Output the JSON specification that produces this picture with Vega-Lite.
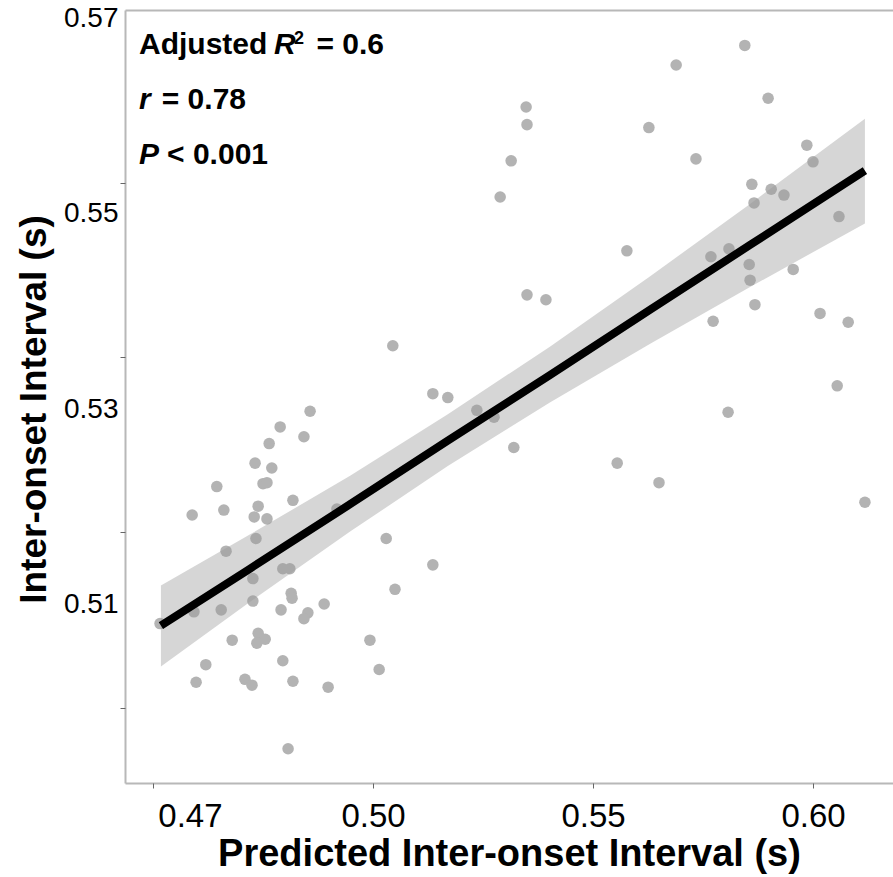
{
  "$schema": "https://vega.github.io/schema/vega-lite/v6.json",
  "width": 768,
  "height": 773,
  "autosize": {"type": "none"},
  "padding": {"left": 125, "top": 10, "right": 0, "bottom": 94},
  "background": "white",
  "config": {"view": {"stroke": null}, "axis": {"grid": false}},
  "datasets": {
    "obs": [
      {"predicted": 0.4857, "observed": 0.5298}, {"predicted": 0.4789, "observed": 0.5282},
      {"predicted": 0.4843, "observed": 0.5272}, {"predicted": 0.4764, "observed": 0.5265},
      {"predicted": 0.4732, "observed": 0.5245}, {"predicted": 0.4770, "observed": 0.5240},
      {"predicted": 0.4645, "observed": 0.5221}, {"predicted": 0.4750, "observed": 0.5224},
      {"predicted": 0.4759, "observed": 0.5225}, {"predicted": 0.4818, "observed": 0.5207},
      {"predicted": 0.4589, "observed": 0.5192}, {"predicted": 0.4661, "observed": 0.5197},
      {"predicted": 0.4739, "observed": 0.5201}, {"predicted": 0.4730, "observed": 0.5190},
      {"predicted": 0.4759, "observed": 0.5188}, {"predicted": 0.4918, "observed": 0.5198},
      {"predicted": 0.4734, "observed": 0.5168}, {"predicted": 0.4666, "observed": 0.5155},
      {"predicted": 0.4795, "observed": 0.5137}, {"predicted": 0.4811, "observed": 0.5137},
      {"predicted": 0.4727, "observed": 0.5127}, {"predicted": 0.4814, "observed": 0.5112},
      {"predicted": 0.4816, "observed": 0.5107}, {"predicted": 0.4727, "observed": 0.5104},
      {"predicted": 0.4593, "observed": 0.5093}, {"predicted": 0.4655, "observed": 0.5095},
      {"predicted": 0.4791, "observed": 0.5095}, {"predicted": 0.4889, "observed": 0.5101},
      {"predicted": 0.4852, "observed": 0.5092}, {"predicted": 0.4843, "observed": 0.5086},
      {"predicted": 0.4516, "observed": 0.5081}, {"predicted": 0.4680, "observed": 0.5064},
      {"predicted": 0.4739, "observed": 0.5071}, {"predicted": 0.4755, "observed": 0.5065},
      {"predicted": 0.4736, "observed": 0.5061}, {"predicted": 0.4620, "observed": 0.5039},
      {"predicted": 0.4795, "observed": 0.5043}, {"predicted": 0.4598, "observed": 0.5021},
      {"predicted": 0.4709, "observed": 0.5024}, {"predicted": 0.4725, "observed": 0.5018},
      {"predicted": 0.4818, "observed": 0.5022}, {"predicted": 0.4898, "observed": 0.5016},
      {"predicted": 0.4807, "observed": 0.4953},
      {"predicted": 0.5348, "observed": 0.5609}, {"predicted": 0.5350, "observed": 0.5591},
      {"predicted": 0.5314, "observed": 0.5554}, {"predicted": 0.5289, "observed": 0.5517},
      {"predicted": 0.5350, "observed": 0.5417}, {"predicted": 0.5393, "observed": 0.5412},
      {"predicted": 0.5045, "observed": 0.5365}, {"predicted": 0.5136, "observed": 0.5316},
      {"predicted": 0.5170, "observed": 0.5312}, {"predicted": 0.5236, "observed": 0.5299},
      {"predicted": 0.5275, "observed": 0.5292}, {"predicted": 0.5320, "observed": 0.5261},
      {"predicted": 0.5030, "observed": 0.5168}, {"predicted": 0.5136, "observed": 0.5141},
      {"predicted": 0.5050, "observed": 0.5116}, {"predicted": 0.4993, "observed": 0.5064},
      {"predicted": 0.5014, "observed": 0.5034},
      {"predicted": 0.5845, "observed": 0.5672}, {"predicted": 0.5689, "observed": 0.5652},
      {"predicted": 0.5898, "observed": 0.5618}, {"predicted": 0.5627, "observed": 0.5588},
      {"predicted": 0.5986, "observed": 0.5570}, {"predicted": 0.5734, "observed": 0.5556},
      {"predicted": 0.6000, "observed": 0.5553}, {"predicted": 0.5861, "observed": 0.5530},
      {"predicted": 0.5905, "observed": 0.5525}, {"predicted": 0.5934, "observed": 0.5519},
      {"predicted": 0.5866, "observed": 0.5511}, {"predicted": 0.6059, "observed": 0.5497},
      {"predicted": 0.5577, "observed": 0.5462}, {"predicted": 0.5768, "observed": 0.5456},
      {"predicted": 0.5809, "observed": 0.5464}, {"predicted": 0.5855, "observed": 0.5448},
      {"predicted": 0.5857, "observed": 0.5432}, {"predicted": 0.5955, "observed": 0.5443},
      {"predicted": 0.5868, "observed": 0.5407}, {"predicted": 0.6016, "observed": 0.5398},
      {"predicted": 0.6080, "observed": 0.5389}, {"predicted": 0.5773, "observed": 0.5390},
      {"predicted": 0.6055, "observed": 0.5324}, {"predicted": 0.5807, "observed": 0.5297},
      {"predicted": 0.5555, "observed": 0.5245}, {"predicted": 0.5650, "observed": 0.5225},
      {"predicted": 0.6118, "observed": 0.5205}
    ],
    "fit": [
      {"predicted": 0.4518, "fit": 0.5079, "lower": 0.5037, "upper": 0.5120},
      {"predicted": 0.4720, "fit": 0.5137, "lower": 0.5103, "upper": 0.5172},
      {"predicted": 0.4948, "fit": 0.5203, "lower": 0.5175, "upper": 0.5232},
      {"predicted": 0.5170, "fit": 0.5268, "lower": 0.5242, "upper": 0.5295},
      {"predicted": 0.5402, "fit": 0.5335, "lower": 0.5307, "upper": 0.5364},
      {"predicted": 0.5630, "fit": 0.5402, "lower": 0.5367, "upper": 0.5436},
      {"predicted": 0.5857, "fit": 0.5468, "lower": 0.5425, "upper": 0.5510},
      {"predicted": 0.6118, "fit": 0.5544, "lower": 0.5490, "upper": 0.5597}
    ]
  },
  "layer": [
    {
      "data": {"name": "obs"},
      "mark": {"type": "circle", "size": 133, "color": "#b3b3b3", "opacity": 1},
      "encoding": {
        "x": {
          "field": "predicted", "type": "quantitative",
          "scale": {"domain": [0.443636, 0.618182], "nice": false, "zero": false},
          "axis": {
            "orient": "bottom", "values": [0.4584, 0.5, 0.55, 0.6],
            "labelExpr": "datum.value < 0.47 ? '0.47' : format(datum.value, '.2f')",
            "ticks": false, "tickSize": 0,
            "domain": true, "domainColor": "#b8b8b8", "domainWidth": 2,
            "labelFont": "Liberation Sans", "labelFontSize": 33,
            "labelColor": "black", "labelPadding": 17, "labelFlush": false, "labelOverlap": false,
            "title": "Predicted Inter-onset Interval (s)",
            "titleFont": "Liberation Sans", "titleFontSize": 38, "titleFontWeight": "bold",
            "titleColor": "black", "titlePadding": 2
          }
        },
        "y": {
          "field": "observed", "type": "quantitative",
          "scale": {"domain": [0.491803, 0.570818], "nice": false, "zero": false},
          "axis": {
            "orient": "left", "values": [0.51, 0.53, 0.55, 0.57], "format": ".2f",
            "ticks": false, "tickSize": 0,
            "domain": true, "domainColor": "#b8b8b8", "domainWidth": 2,
            "labelFont": "Liberation Sans", "labelFontSize": 28, "labelColor": "black",
            "labelPadding": 7, "labelFlush": false, "labelOverlap": false,
            "title": "Inter-onset Interval (s)",
            "titleFont": "Liberation Sans", "titleFontSize": 37, "titleFontWeight": "bold",
            "titleColor": "black", "titlePadding": 10, "titleY": 399
          }
        }
      }
    },
    {
      "data": {"name": "fit"},
      "mark": {"type": "area", "color": "#999999", "opacity": 0.4},
      "encoding": {
        "x": {
          "field": "predicted", "type": "quantitative",
          "scale": {"domain": [0.443636, 0.618182], "nice": false, "zero": false},
          "axis": {
            "orient": "bottom", "values": [0.45, 0.5, 0.55, 0.6], "labels": false,
            "domain": false, "ticks": true, "tickSize": 5, "tickColor": "#666666",
            "tickWidth": 1, "title": null
          }
        },
        "y": {
          "field": "lower", "type": "quantitative",
          "scale": {"domain": [0.491803, 0.570818], "nice": false, "zero": false},
          "axis": {
            "orient": "left", "values": [0.5531, 0.5353, 0.5175, 0.4995], "labels": false,
            "domain": false, "ticks": true, "tickSize": 5, "tickColor": "#666666",
            "tickWidth": 1, "title": null
          }
        },
        "y2": {"field": "upper"}
      }
    },
    {
      "data": {"name": "fit"},
      "mark": {"type": "line", "color": "black", "strokeWidth": 8},
      "encoding": {
        "x": {
          "field": "predicted", "type": "quantitative",
          "scale": {"domain": [0.443636, 0.618182], "nice": false, "zero": false},
          "axis": {
            "orient": "top", "domain": true, "domainColor": "#b8b8b8", "domainWidth": 2,
            "ticks": false, "labels": false, "title": null
          }
        },
        "y": {
          "field": "fit", "type": "quantitative",
          "scale": {"domain": [0.491803, 0.570818], "nice": false, "zero": false},
          "axis": null
        }
      }
    },
    {
      "data": {"values": [{"label": "Adjusted", "px": 0.44682, "py": 0.56629}]},
      "mark": {"type": "text", "align": "left", "baseline": "alphabetic", "font": "Liberation Sans", "fontSize": 30, "fontWeight": "bold", "color": "black"},
      "encoding": {
        "x": {"field": "px", "type": "quantitative", "axis": null},
        "y": {"field": "py", "type": "quantitative", "axis": null},
        "text": {"field": "label"}
      }
    },
    {
      "data": {"values": [
        {"label": "R", "px": 0.4775, "py": 0.56629},
        {"label": "r", "px": 0.44682, "py": 0.56067},
        {"label": "P", "px": 0.44682, "py": 0.55505}
      ]},
      "mark": {"type": "text", "align": "left", "baseline": "alphabetic", "font": "Liberation Sans", "fontSize": 30, "fontWeight": "bold", "fontStyle": "italic", "color": "black"},
      "encoding": {
        "x": {"field": "px", "type": "quantitative", "axis": null},
        "y": {"field": "py", "type": "quantitative", "axis": null},
        "text": {"field": "label"}
      }
    },
    {
      "data": {"values": [{"label": "2", "px": 0.48205, "py": 0.56735}]},
      "mark": {"type": "text", "align": "left", "baseline": "alphabetic", "font": "Liberation Sans", "fontSize": 18, "fontWeight": "bold", "color": "black"},
      "encoding": {
        "x": {"field": "px", "type": "quantitative", "axis": null},
        "y": {"field": "py", "type": "quantitative", "axis": null},
        "text": {"field": "label"}
      }
    },
    {
      "data": {"values": [
        {"label": "= 0.6", "px": 0.50250, "py": 0.56629},
        {"label": "= 0.78", "px": 0.47114, "py": 0.56067},
        {"label": "< 0.001", "px": 0.47614, "py": 0.55505}
      ]},
      "mark": {"type": "text", "align": "right", "baseline": "alphabetic", "font": "Liberation Sans", "fontSize": 30, "fontWeight": "bold", "color": "black"},
      "encoding": {
        "x": {"field": "px", "type": "quantitative", "axis": null},
        "y": {"field": "py", "type": "quantitative", "axis": null},
        "text": {"field": "label"}
      }
    }
  ],
  "resolve": {"axis": {"x": "independent", "y": "independent"}}
}
